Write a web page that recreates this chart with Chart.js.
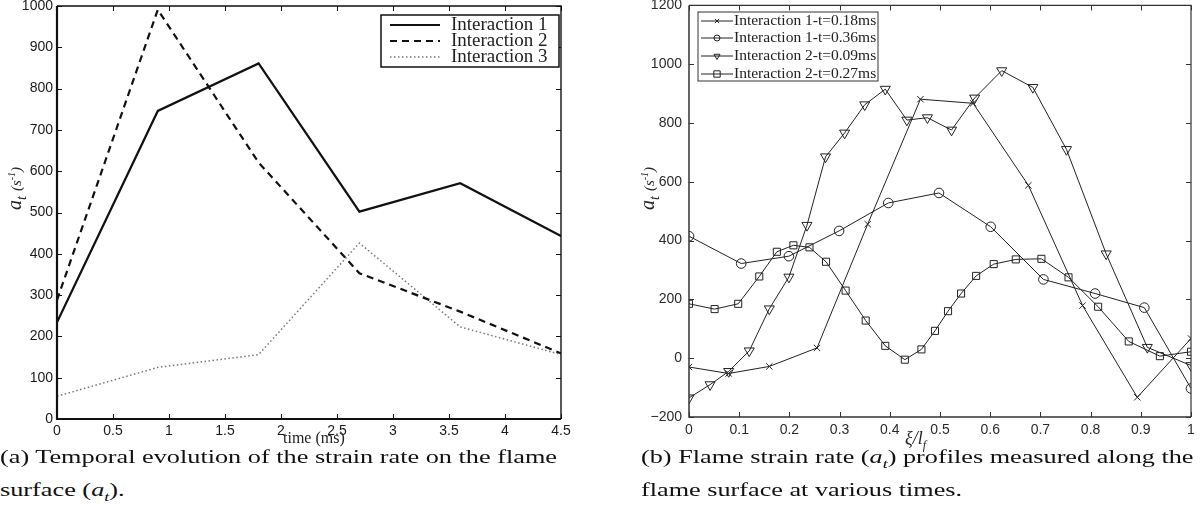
<!DOCTYPE html>
<html>
<head>
<meta charset="utf-8">
<script src="https://cdn.jsdelivr.net/npm/chart.js@4.4.0/dist/chart.umd.min.js"></script>
<style>
  html, body { margin:0; padding:0; background:#fff; width:1204px; height:525px; overflow:hidden; position:relative; }
  .cw { position:absolute; }
  .ttl { position:absolute; font-family:'Liberation Serif', serif; color:#222; white-space:nowrap; }
  .cap { position:absolute; font-family:'Liberation Serif', serif; font-size:19px; color:#111; white-space:nowrap; transform-origin:0 50%; line-height:20px; }
</style>
</head>
<body>
<div class="cw" id="wa" style="left:0px; top:-10px; width:580px; height:460px;"><canvas id="ca"></canvas></div>
<div class="cw" id="wb" style="left:630px; top:-10px; width:574px; height:460px;"><canvas id="cb"></canvas></div>

<div class="ttl" id="ya" style="left:8px; top:188px; font-size:20px; font-style:italic; transform-origin:0 0;"></div>
<div class="ttl" id="yb" style="left:639px; top:188px; font-size:20px; font-style:italic; transform-origin:0 0;"></div>
<div class="ttl" id="xa" style="left:283px; top:429px; font-size:16px;">time (ms)</div>
<div class="ttl" id="xb" style="left:905px; top:428px; font-size:18px; font-style:italic;">ξ/<i>l</i><sub style="font-size:12px">f</sub></div>

<div class="cap" id="a1" style="left:0px; top:447px;">(a) Temporal evolution of the strain rate on the flame</div>
<div class="cap" id="a2" style="left:0px; top:480px;">surface (<i>a</i><sub style="font-size:13px"><i>t</i></sub>).</div>
<div class="cap" id="b1" style="left:641px; top:447px;">(b) Flame strain rate (<i>a</i><sub style="font-size:13px"><i>t</i></sub>) profiles measured along the</div>
<div class="cap" id="b2" style="left:641px; top:480px;">flame surface at various times.</div>

<script>
// ---------------- DATA ----------------
// (a) temporal evolution
const timeMs       = [0, 0.9, 1.8, 2.7, 3.6, 4.5];
const interaction1 = [234, 746, 861, 502, 571, 443];
const interaction2 = [288, 991, 621, 353, 260, 159];
const interaction3 = [55, 125, 156, 426, 223, 156];
const seriesNamesA = ['Interaction 1', 'Interaction 2', 'Interaction 3'];
const xTicksA = [0, 0.5, 1, 1.5, 2, 2.5, 3, 3.5, 4, 4.5];
const yTicksA = [0, 100, 200, 300, 400, 500, 600, 700, 800, 900, 1000];

// (b) strain-rate profiles along the flame surface
const i1t018X = [0, 0.079, 0.16, 0.255, 0.356, 0.461, 0.566, 0.676, 0.784, 0.893, 1.0];
const i1t018Y = [-30, -52, -28, 35, 456, 881, 867, 588, 179, -133, 67];
const i1t036X = [0, 0.104, 0.199, 0.299, 0.397, 0.498, 0.601, 0.706, 0.809, 0.907, 1.0];
const i1t036Y = [415, 322, 347, 433, 528, 562, 447, 268, 220, 172, -103];
const i2t009X = [0, 0.042, 0.079, 0.12, 0.16, 0.199, 0.235, 0.272, 0.31, 0.35, 0.391, 0.434, 0.475, 0.523, 0.569, 0.623, 0.685, 0.752, 0.831, 0.913, 1.0];
const i2t009Y = [-135, -90, -45, 25, 168, 276, 452, 685, 766, 862, 915, 810, 818, 776, 885, 978, 921, 710, 355, 37, -25];
const i2t027X = [0, 0.051, 0.098, 0.14, 0.175, 0.208, 0.24, 0.273, 0.312, 0.352, 0.391, 0.43, 0.463, 0.49, 0.516, 0.542, 0.572, 0.607, 0.651, 0.702, 0.756, 0.815, 0.876, 0.938, 1.0];
const i2t027Y = [185, 167, 185, 278, 362, 384, 377, 328, 230, 128, 42, -5, 30, 93, 160, 220, 280, 320, 336, 338, 275, 175, 57, 7, 22];
const seriesNamesB = ['Interaction 1-t=0.18ms', 'Interaction 1-t=0.36ms', 'Interaction 2-t=0.09ms', 'Interaction 2-t=0.27ms'];
const xTicksB = [0, 0.1, 0.2, 0.3, 0.4, 0.5, 0.6, 0.7, 0.8, 0.9, 1];
const yTicksB = [-200, 0, 200, 400, 600, 800, 1000, 1200];

const pts = (xs, ys) => xs.map((x, i) => ({x, y: ys[i]}));

// ---------------- PLUGINS ----------------
const frame = {
  id: 'frame',
  afterDatasetsDraw(chart, args, o) {
    const {ctx, chartArea: {left, right, top, bottom}, scales: {x, y}} = chart;
    ctx.save();
    ctx.strokeStyle = o.color;
    ctx.lineWidth = o.tickWidth;
    const L = o.tickLen;
    ctx.beginPath();
    x.ticks.forEach(t => {
      const p = Math.round(x.getPixelForValue(t.value)) + 0.5;
      ctx.moveTo(p, bottom); ctx.lineTo(p, bottom - L);
      ctx.moveTo(p, top); ctx.lineTo(p, top + L);
    });
    y.ticks.forEach(t => {
      const p = Math.round(y.getPixelForValue(t.value)) + 0.5;
      ctx.moveTo(left, p); ctx.lineTo(left + L, p);
      ctx.moveTo(right, p); ctx.lineTo(right - L, p);
    });
    ctx.stroke();
    ctx.lineWidth = o.thin;
    ctx.beginPath();
    ctx.moveTo(left, top); ctx.lineTo(right, top); ctx.lineTo(right, bottom);
    ctx.stroke();
    ctx.lineWidth = o.thick;
    ctx.beginPath();
    ctx.moveTo(left, top); ctx.lineTo(left, bottom); ctx.lineTo(right, bottom);
    ctx.stroke();
    ctx.restore();
  }
};

const boxLegend = {
  id: 'boxLegend',
  afterDraw(chart, args, o) {
    const ctx = chart.ctx;
    ctx.save();
    ctx.fillStyle = '#fff';
    ctx.fillRect(o.box[0], o.box[1], o.box[2], o.box[3]);
    ctx.strokeStyle = o.borderColor;
    ctx.lineWidth = o.borderWidth;
    ctx.strokeRect(o.box[0], o.box[1], o.box[2], o.box[3]);
    ctx.font = o.font;
    ctx.textBaseline = 'middle';
    ctx.textAlign = 'left';
    chart.data.datasets.forEach((ds, i) => {
      const yy = o.rowY[i];
      ctx.strokeStyle = ds.borderColor;
      ctx.lineWidth = ds.borderWidth;
      ctx.setLineDash(ds.borderDash || []);
      ctx.beginPath();
      ctx.moveTo(o.lineX[0], yy); ctx.lineTo(o.lineX[1], yy);
      ctx.stroke();
      ctx.setLineDash([]);
      if (o.markers) {
        ctx.fillStyle = 'rgba(0,0,0,0)';
        ctx.strokeStyle = ds.pointBorderColor || ds.borderColor;
        ctx.lineWidth = 1;
        Chart.helpers.drawPoint(ctx, {
          pointStyle: ds.pointStyle, radius: o.markerR[i], rotation: ds.pointRotation || 0, borderWidth: 1
        }, (o.lineX[0] + o.lineX[1]) / 2, yy);
      }
      ctx.fillStyle = o.textColor;
      ctx.fillText(ds.label, o.textX, yy);
    });
    ctx.restore();
  }
};

const tickFont = {family: "'Liberation Sans', Arial, sans-serif", size: 14};

function axes(xmin, xmax, xt, ymin, ymax, yt, yW, xH, yPad, xPad, col) {
  return {
    x: {
      type: 'linear', min: xmin, max: xmax,
      afterBuildTicks: s => { s.ticks = xt.map(v => ({value: v})); },
      afterFit: s => { s.height = xH; },
      grid: {display: false, drawTicks: false},
      border: {display: false},
      ticks: {font: tickFont, color: col, padding: xPad, maxRotation: 0, autoSkip: false,
              callback: v => String(v)}
    },
    y: {
      type: 'linear', min: ymin, max: ymax,
      afterBuildTicks: s => { s.ticks = yt.map(v => ({value: v})); },
      afterFit: s => { s.width = yW; },
      grid: {display: false, drawTicks: false},
      border: {display: false},
      ticks: {font: tickFont, color: col, padding: yPad, autoSkip: false,
              callback: v => (v < 0 ? '\u2212' + Math.abs(v) : String(v))}
    }
  };
}

// ---------------- CHART A ----------------
new Chart(document.getElementById('ca'), {
  type: 'line',
  data: {
    datasets: [
      {label: seriesNamesA[0], data: pts(timeMs, interaction1), borderColor: '#111', borderWidth: 2.2, pointRadius: 0, tension: 0},
      {label: seriesNamesA[1], data: pts(timeMs, interaction2), borderColor: '#111', borderWidth: 2.2, borderDash: [7, 5], pointRadius: 0, tension: 0},
      {label: seriesNamesA[2], data: pts(timeMs, interaction3), borderColor: '#777', borderWidth: 1.5, borderDash: [1.5, 2.5], pointRadius: 0, tension: 0}
    ]
  },
  options: {
    responsive: true, maintainAspectRatio: false, animation: false,
    layout: {padding: {left: 0, top: 16, right: 19, bottom: 0}},
    scales: axes(0, 4.5, xTicksA, 0, 1000, yTicksA, 57, 31, 4, 4, '#1a1a1a'),
    plugins: {
      legend: {display: false}, tooltip: {enabled: false},
      frame: {color: '#111', tickWidth: 1, tickLen: 5, thin: 1.4, thick: 2.2},
      boxLegend: {box: [381, 25, 178, 52], borderColor: '#111', borderWidth: 1.5,
        font: "19px 'Liberation Serif', serif", textColor: '#222',
        rowY: [35, 51, 67], lineX: [390, 440], textX: 451, markers: false}
    }
  },
  plugins: [frame, boxLegend]
});

// ---------------- CHART B ----------------
const lineCol = '#222';
new Chart(document.getElementById('cb'), {
  type: 'line',
  data: {
    datasets: [
      {label: seriesNamesB[0], data: pts(i1t018X, i1t018Y), borderColor: lineCol, borderWidth: 1, pointStyle: 'crossRot', pointRadius: 4.5, pointBorderColor: lineCol, pointBorderWidth: 1, tension: 0},
      {label: seriesNamesB[1], data: pts(i1t036X, i1t036Y), borderColor: lineCol, borderWidth: 1, pointStyle: 'circle', pointRadius: 4.8, pointBorderColor: lineCol, pointBackgroundColor: 'rgba(0,0,0,0)', pointBorderWidth: 1, tension: 0},
      {label: seriesNamesB[2], data: pts(i2t009X, i2t009Y), borderColor: lineCol, borderWidth: 1, pointStyle: 'triangle', pointRotation: 180, pointRadius: 5.8, pointBorderColor: lineCol, pointBackgroundColor: 'rgba(0,0,0,0)', pointBorderWidth: 1, tension: 0},
      {label: seriesNamesB[3], data: pts(i2t027X, i2t027Y), borderColor: lineCol, borderWidth: 1, pointStyle: 'rect', pointRadius: 5, pointBorderColor: lineCol, pointBackgroundColor: 'rgba(0,0,0,0)', pointBorderWidth: 1, tension: 0}
    ]
  },
  options: {
    responsive: true, maintainAspectRatio: false, animation: false,
    layout: {padding: {left: 0, top: 15, right: 13, bottom: 0}},
    scales: axes(0, 1, xTicksB, -200, 1200, yTicksB, 59, 33, 7, 5, '#2a2a2a'),
    plugins: {
      legend: {display: false}, tooltip: {enabled: false},
      frame: {color: '#333', tickWidth: 1, tickLen: 5, thin: 1.2, thick: 1.5},
      boxLegend: {box: [68, 22, 180, 69], borderColor: '#333', borderWidth: 1,
        font: "15.5px 'Liberation Serif', serif", textColor: '#222',
        rowY: [31, 48, 66, 84], lineX: [71, 103], textX: 104, markers: true, markerR: [3, 3, 3.5, 4.5]}
    }
  },
  plugins: [frame, boxLegend]
});

// ---------------- TITLES ----------------
const yt = '<i>a</i><sub style="font-size:14px"><i>t</i></sub> <span style="font-size:15px">(<i>s</i><sup style="font-size:10px">-1</sup>)</span>';
['ya', 'yb'].forEach(id => {
  const el = document.getElementById(id);
  el.innerHTML = yt;
  const w = el.offsetWidth, h = el.offsetHeight;
  const cx = id === 'ya' ? 16 : 649, cy = 188;
  el.style.left = (cx - h / 2) + 'px';
  el.style.top = (cy + w / 2) + 'px';
  el.style.transform = 'rotate(-90deg)';
});

// captions: first lines stretched to the column width
function fit(idA, idB, target) {
  const a = document.getElementById(idA), b = document.getElementById(idB);
  const s = target / a.offsetWidth;
  a.style.transform = 'scaleX(' + s + ')';
  b.style.transform = 'scaleX(' + s + ')';
}
fit('a1', 'a2', 557);
fit('b1', 'b2', 552);
</script>
</body>
</html>
